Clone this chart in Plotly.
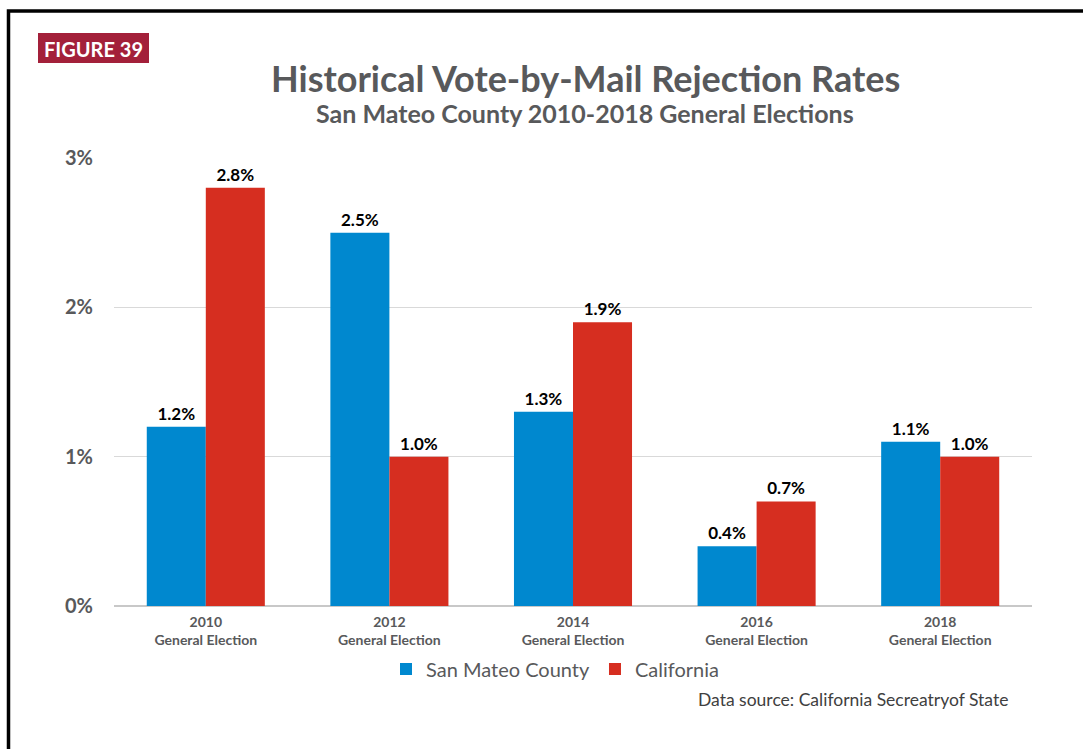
import plotly.graph_objects as go

years = ["2010", "2012", "2014", "2016", "2018"]
tick_labels = ["<b>%s</b><br><b>General Election</b>" % y for y in years]
san_mateo = [1.2, 2.5, 1.3, 0.4, 1.1]
california = [2.8, 1.0, 1.9, 0.7, 1.0]
series_names = ["San Mateo County", "California"]
y_ticks = [0, 0.01, 0.02, 0.03]
y_tick_text = ["<b>0%</b>", "<b>1%</b>", "<b>2%</b>", "<b>3%</b>"]

FONT = "Lato"
GRAY = "#58595b"
BLUE = "#0088cf"
RED = "#d62e20"

W, H = 1083, 749
L, R, T, B = 114, 1032, 158, 606

def px(x):
    return (x - L) / (R - L)

def py(y):
    return (B - y) / (B - T)

fig = go.Figure()
for name, vals, col in [(series_names[0], san_mateo, BLUE), (series_names[1], california, RED)]:
    fig.add_trace(go.Bar(
        x=years, y=[v / 100 for v in vals], name=name, marker=dict(color=col, line=dict(width=0)),
        text=["<b>%.1f%%</b>" % v for v in vals], textposition="outside",
        textfont=dict(family=FONT, size=17, color="#000000"), cliponaxis=False,
    ))

fig.update_layout(
    width=W, height=H,
    margin=dict(l=L, r=W - R, t=T, b=H - B, pad=0),
    paper_bgcolor="white", plot_bgcolor="white",
    barmode="group", bargap=0.357, bargroupgap=0,
    font=dict(family=FONT, color=GRAY),
    showlegend=True,
    legend=dict(orientation="h", x=px(386), y=py(669), xanchor="left", yanchor="middle",
                font=dict(family=FONT, size=20, color=GRAY), traceorder="normal",
                itemwidth=30, bgcolor="rgba(0,0,0,0)"),
    xaxis=dict(tickmode="array", tickvals=years, ticktext=tick_labels,
               tickfont=dict(family=FONT, size=14, color=GRAY), showgrid=False,
               showline=False, ticks="outside", ticklen=3, tickcolor="rgba(0,0,0,0)"),
    yaxis=dict(range=[0, 0.03], tickmode="array", tickvals=y_ticks, ticktext=y_tick_text,
               tickfont=dict(family=FONT, size=20, color=GRAY), showgrid=True,
               gridcolor="#d9d9d9", gridwidth=1, zeroline=True, zerolinecolor="#c8c8c8",
               zerolinewidth=1.5, ticks="outside", ticklen=16, tickcolor="rgba(0,0,0,0)",
               showline=False),
)

# frame (left and top edges)
fig.add_shape(type="path", xref="paper", yref="paper",
              path="M %f %f L %f %f L %f %f" % (px(8.5), py(800), px(8.5), py(11), px(1120), py(11)),
              line=dict(color="black", width=3.5))

# badge
fig.add_shape(type="rect", xref="paper", yref="paper",
              x0=px(38), x1=px(149), y0=py(63), y1=py(33),
              fillcolor="#a3203a", line=dict(width=0))
fig.add_annotation(xref="paper", yref="paper", x=px(93.5), y=py(48.5), text="<b>FIGURE 39</b>",
                   showarrow=False, font=dict(family=FONT, size=20, color="white"),
                   xanchor="center", yanchor="middle")

fig.add_annotation(xref="paper", yref="paper", x=px(585), y=py(78),
                   text="<b>Historical Vote-by-Mail Rejection Rates</b>",
                   showarrow=False, font=dict(family=FONT, size=36, color=GRAY),
                   xanchor="center", yanchor="middle")
fig.add_annotation(xref="paper", yref="paper", x=px(585), y=py(113),
                   text="<b>San Mateo County 2010-2018 General Elections</b>",
                   showarrow=False, font=dict(family=FONT, size=25, color=GRAY),
                   xanchor="center", yanchor="middle")
fig.add_annotation(xref="paper", yref="paper", x=px(1010), y=py(699),
                   text="Data source: California Secreatryof State",
                   showarrow=False, font=dict(family=FONT, size=17.5, color="#404040"),
                   xanchor="right", yanchor="middle")

fig.write_html("out.html", config={"displayModeBar": False},
               post_script="document.body.style.margin='0px';")
